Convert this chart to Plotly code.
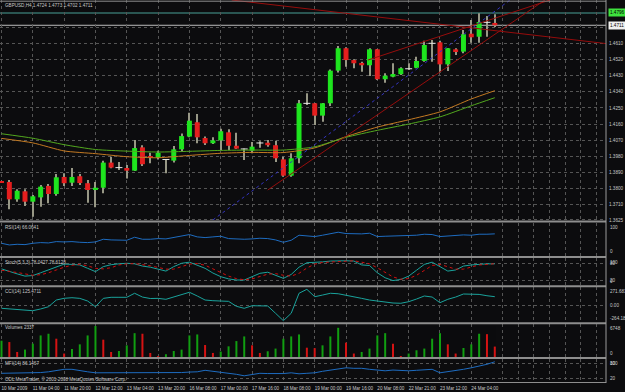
import plotly.graph_objects as go

# ---------------- data ----------------
time_ticks = list(range(0, 61, 4))
time_labels = ["10 Mar 2009", "11 Mar 04:00", "11 Mar 20:00", "12 Mar 12:00", "13 Mar 04:00",
               "13 Mar 20:00", "16 Mar 08:00", "17 Mar 00:00", "17 Mar 16:00", "18 Mar 08:00",
               "19 Mar 00:00", "19 Mar 16:00", "20 Mar 08:00", "22 Mar 21:00", "23 Mar 12:00",
               "24 Mar 04:00"]
future_grid = [64, 66, 68, 70, 72, 74, 76]

open_ = [1.3842, 1.3837, 1.3740, 1.3785, 1.3727, 1.3751, 1.3815, 1.3770, 1.3865, 1.3833,
         1.3869, 1.3830, 1.3796, 1.3805, 1.3945, 1.3918, 1.3915, 1.3900, 1.4030, 1.3980,
         1.3972, 1.3963, 1.3956, 1.4019, 1.4090, 1.4170, 1.4082, 1.4053, 1.4069, 1.4114,
         1.4039, 1.4022, 1.4011, 1.4055, 1.4056, 1.4042, 1.3963, 1.3872, 1.3969, 1.4276,
         1.4276, 1.4207, 1.4276, 1.4458, 1.4583, 1.4517, 1.4501, 1.4488, 1.4577, 1.4410,
         1.4424, 1.4438, 1.4469, 1.4474, 1.4512, 1.4611, 1.4616, 1.4493, 1.4577, 1.4564,
         1.4664, 1.4647, 1.4728, 1.4724]
high = [1.3845, 1.3848, 1.3796, 1.3796, 1.3764, 1.3820, 1.3826, 1.3881, 1.3885, 1.3915,
        1.3881, 1.3848, 1.3837, 1.3956, 1.3978, 1.3948, 1.3932, 1.4071, 1.4042, 1.4000,
        1.4011, 1.3965, 1.4038, 1.4108, 1.4223, 1.4216, 1.4090, 1.4086, 1.4134, 1.4131,
        1.4112, 1.4024, 1.4060, 1.4064, 1.4071, 1.4067, 1.3978, 1.3997, 1.4294, 1.4332,
        1.4278, 1.4278, 1.4465, 1.4595, 1.4588, 1.4521, 1.4508, 1.4583, 1.4579, 1.4443,
        1.4499, 1.4477, 1.4499, 1.4536, 1.4625, 1.4629, 1.4625, 1.4584, 1.4583, 1.4685,
        1.4740, 1.4778, 1.4763, 1.4773]
low = [1.3831, 1.3685, 1.3727, 1.3703, 1.3643, 1.3699, 1.3718, 1.3760, 1.3815, 1.3815,
       1.3820, 1.3721, 1.3696, 1.3774, 1.3913, 1.3904, 1.3857, 1.3898, 1.3926, 1.3941,
       1.3963, 1.3885, 1.3945, 1.4006, 1.4086, 1.4053, 1.4043, 1.4049, 1.4015, 1.4015,
       1.4021, 1.3960, 1.3997, 1.4028, 1.4034, 1.3948, 1.3866, 1.3866, 1.3941, 1.4266,
       1.4155, 1.4173, 1.4261, 1.4447, 1.4480, 1.4471, 1.4452, 1.4428, 1.4406, 1.4391,
       1.4421, 1.4434, 1.4462, 1.4471, 1.4508, 1.4508, 1.4447, 1.4456, 1.4545, 1.4555,
       1.4614, 1.4614, 1.4647, 1.4702]
close = [1.3834, 1.3740, 1.3788, 1.3727, 1.3757, 1.3811, 1.3770, 1.3863, 1.3830, 1.3865,
         1.3831, 1.3792, 1.3805, 1.3945, 1.3917, 1.3916, 1.3900, 1.4026, 1.3936, 1.3976,
         1.3999, 1.3962, 1.4019, 1.4093, 1.4179, 1.4086, 1.4053, 1.4069, 1.4120, 1.4039,
         1.4023, 1.4020, 1.4034, 1.4054, 1.4042, 1.3969, 1.3872, 1.3969, 1.4276, 1.4275,
         1.4207, 1.4276, 1.4458, 1.4583, 1.4517, 1.4499, 1.4488, 1.4577, 1.4410, 1.4430,
         1.4439, 1.4471, 1.4468, 1.4512, 1.4601, 1.4610, 1.4493, 1.4583, 1.4566, 1.4661,
         1.4644, 1.4729, 1.4727, 1.4711]

ma_idx = [0, 4, 8, 12, 16, 20, 24, 28, 32, 36, 40, 44, 48, 52, 56, 60, 63]
ma_green = [1.4106, 1.4081, 1.4045, 1.4018, 1.4009, 1.4004, 1.4008, 1.4013, 1.4015,
            1.4015, 1.4033, 1.4086, 1.4125, 1.4160, 1.4200, 1.4262, 1.4307]
ma_orange = [1.4080, 1.4055, 1.4010, 1.3995, 1.3978, 1.3972, 1.3985, 1.3997, 1.4002,
             1.4001, 1.4027, 1.4090, 1.4143, 1.4184, 1.4228, 1.4300, 1.4346]

# trend line anchor points (bar index, price)
trend_down_x, trend_down_y = [29.4, 77.2], [1.4852, 1.4609]
trend_up1_x, trend_up1_y = [34.0, 69.4], [1.3792, 1.4852]
trend_up2_x, trend_up2_y = [46.8, 70.05], [1.4517, 1.4852]
trend_blue_x, trend_blue_y = [27.0, 64.95], [1.3625, 1.4852]

level_line = 1.4780
level_label = "1.4796"
bid_price = 1.4711
bid_label = "1.4711"

price_ticks = [1.3625, 1.3710, 1.3800, 1.3890, 1.3980, 1.4070, 1.4160, 1.4250,
               1.4340, 1.4430, 1.4520, 1.4610, 1.4700]
price_tick_text = ["1.3625", "1.3710", "1.3800", "1.3890", "1.3980", "1.4070", "1.4160",
                   "1.4250", "1.4340", "1.4430", "1.4520", "1.4610", ""]

rsi = [38, 33, 35, 34, 38, 40, 39, 43, 42, 43, 41, 40, 42, 50, 48, 48, 47, 56, 50, 50,
       52, 51, 55, 60, 64, 57, 55, 57, 59, 52, 50, 50, 51, 53, 52, 48, 41, 47, 62, 61,
       58, 62, 66, 71, 67, 66, 66, 68, 58, 59, 60, 60, 60, 62, 65, 64, 58, 60, 60, 63,
       62, 65, 65, 66.06]
stoch_main = [60, 50, 42, 34, 36, 46, 56, 66, 77, 76, 74, 62, 50, 68, 75, 78, 80, 78, 70, 66,
              58, 52, 68, 80, 84, 74, 62, 45, 32, 24, 20, 20, 32, 44, 48, 36, 26, 40, 66, 82,
              83, 85, 88, 89, 89, 88, 74, 72, 46, 28, 18, 22, 34, 55, 76, 84, 68, 52, 56, 70,
              74, 77, 78, 78.04]
stoch_signal = [55, 52, 47, 42, 37, 39, 46, 56, 66, 73, 76, 71, 62, 60, 64, 74, 78, 79, 76, 71,
                65, 59, 59, 67, 77, 79, 73, 60, 46, 34, 25, 21, 24, 32, 41, 43, 37, 34, 44, 63,
                77, 83, 85, 87, 89, 89, 84, 78, 64, 49, 31, 23, 25, 37, 55, 72, 76, 68, 59, 59,
                67, 74, 76, 78.61]
cci = [-50, -60, -70, -75, -86, -60, -26, 75, 101, 110, 100, 60, -26, 100, 116, 116, 116, 177,
       120, 98, 100, 86, 120, 151, 192, 136, 75, 65, 60, 55, -20, -50, -11, -11, -15, -125,
       -237, -125, 177, 237, 125, 150, 177, 170, 150, 120, 100, 75, 60, 41, 30, 26, 50, 90,
       136, 120, 35, 86, 120, 166, 166, 160, 140, 125.47]
volume = [3600, 3307, 1187, 1696, 2968, 4728, 5088, 4028, 848, 1823,
          2820, 4728, 6748, 3816, 1187, 1399, 2608, 5215, 5088, 975,
          276, 700, 1399, 1696, 4728, 4940, 2671, 975, 1272, 2396,
          3519, 4516, 2608, 975, 1336, 1908, 4028, 4516, 4940, 2100,
          2000, 2608, 4516, 6360, 3180, 848, 1187, 1908, 4728, 5215,
          2968, 276, 848, 1548, 1908, 4028, 5215, 2820, 848, 2035,
          2820, 5088, 5000, 2337]
mfi = [40, 40, 40, 40, 40, 43, 46, 52, 56, 56, 50, 46, 42, 42, 41, 40, 40, 40, 40, 40,
       40, 40, 41, 43, 45, 46, 52, 48, 45, 43, 36, 30, 36, 40, 39, 38, 39, 42, 38, 40,
       42, 48, 53, 58, 62, 60, 60, 56, 53, 50, 53, 51, 50, 52, 53, 56, 42, 46, 52, 56,
       62, 69, 76, 86.15]

title_text = "GBPUSD,H4 1.4724 1.4773 1.4702 1.4711"
rsi_text = "RSI(14) 66.0641"
stoch_text = "Stoch(5,3,3) 78.0427 78.6128"
cci_text = "CCI(14) 125.4711"
vol_text = "Volumes 2337"
mfi_text = "MFI(14) 86.1467"
copy_text = "ODL MetaTrader, \u00a9 2001-2008 MetaQuotes Software Corp."

# ---------------- styling / layout ----------------
BG = "#0c0c0e"
TXT = "#c8c8c8"
GRID = "#555555"
UP = "#1ee61e"
DN = "#e61e1e"
FONT = "Liberation Sans"
FS = 4.6

W, H = 625, 392
MR, MB = 19, 10
PH = H - MB
PX = 7.83  # pixels per bar


def pyr(p):
    return 1 - p / PH


idx = list(range(len(open_)))
doji = [abs(c - o) < 0.00025 for o, c in zip(open_, close)]
body_x = [i for i in idx if not doji[i]]
body_base = [min(open_[i], close[i]) for i in body_x]
body_h = [abs(close[i] - open_[i]) for i in body_x]
body_col = [UP if close[i] > open_[i] else DN for i in body_x]
doji_x = [i for i in idx if doji[i]]
doji_y = [(open_[i] + close[i]) / 2 for i in doji_x]

vol_col = ["#12a012" if (i == 0 or volume[i] > volume[i - 1]) else "#d81414" for i in idx]

fig = go.Figure()
# wicks
fig.add_trace(go.Bar(x=idx, y=[h - l for h, l in zip(high, low)], base=low,
                     width=1.0 / PX, marker=dict(color="#9a9a88", line=dict(width=0)),
                     opacity=0.99, yaxis="y", hoverinfo="skip"))
# bodies
fig.add_trace(go.Bar(x=body_x, y=body_h, base=body_base, width=5.0 / PX,
                     marker=dict(color=body_col, line=dict(width=0)), opacity=0.99,
                     yaxis="y", hoverinfo="skip"))
fig.add_trace(go.Scatter(x=doji_x, y=doji_y, mode="markers", yaxis="y",
                         marker=dict(symbol="line-ew", size=5,
                                     line=dict(width=1, color="#e8e8e8")), hoverinfo="skip"))
fig.add_trace(go.Scatter(x=ma_idx, y=ma_orange, mode="lines", yaxis="y",
                         line=dict(color="#c47a22", width=1, shape="spline", smoothing=0.6)))
fig.add_trace(go.Scatter(x=ma_idx, y=ma_green, mode="lines", yaxis="y",
                         line=dict(color="#52a81e", width=1, shape="spline", smoothing=0.6)))
for tx, ty in [(trend_down_x, trend_down_y), (trend_up1_x, trend_up1_y),
               (trend_up2_x, trend_up2_y)]:
    fig.add_trace(go.Scatter(x=tx, y=ty, mode="lines", yaxis="y",
                             line=dict(color="#960c0c", width=1)))
fig.add_trace(go.Scatter(x=trend_blue_x, y=trend_blue_y, mode="lines", yaxis="y",
                         line=dict(color="#3434c0", width=1, dash="dot")))

# indicators
fig.add_trace(go.Scatter(x=idx, y=rsi, mode="lines", yaxis="y2",
                         line=dict(color="#1e6cc0", width=1)))
fig.add_trace(go.Scatter(x=idx, y=stoch_main, mode="lines", yaxis="y3",
                         line=dict(color="#1aa39c", width=1)))
fig.add_trace(go.Scatter(x=idx, y=stoch_signal, mode="lines", yaxis="y3",
                         line=dict(color="#d01010", width=1, dash="dot")))
fig.add_trace(go.Scatter(x=idx, y=cci, mode="lines", yaxis="y4",
                         line=dict(color="#1aa39c", width=1)))
fig.add_trace(go.Bar(x=idx, y=volume, width=2.0 / PX, yaxis="y5",
                     marker=dict(color=vol_col, line=dict(width=0)), opacity=0.99))
fig.add_trace(go.Scatter(x=idx, y=mfi, mode="lines", yaxis="y6",
                         line=dict(color="#1e6cc0", width=1)))

tickvals = time_ticks + future_grid
ticktext = time_labels + [""] * len(future_grid)

vol_max_axis = max(volume) * 33.5 / 31.5

sub_common = dict(anchor="x", showticklabels=False, zeroline=False, showline=False,
                  ticks="", fixedrange=True)
fig.update_layout(
    width=W, height=H,
    margin=dict(l=0, r=MR, t=0, b=MB),
    paper_bgcolor=BG, plot_bgcolor=BG,
    showlegend=False, barmode="overlay", hovermode=False,
    font=dict(family=FONT, size=FS, color=TXT),
    xaxis=dict(anchor="y6", domain=[0, 1], range=[-(1.5 / PX), (606 - 1.5) / PX],
               tickmode="array", tickvals=tickvals, ticktext=ticktext,
               ticklabelposition="outside right", ticks="", tickangle=0,
               ticklabelstandoff=2,
               tickfont=dict(size=FS, color=TXT, family=FONT),
               showgrid=True, gridcolor=GRID, griddash="dot", gridwidth=1,
               zeroline=False, showline=False),
    yaxis=dict(anchor="x", domain=[pyr(221), 1], range=[1.4852 - 221 * 0.0005578, 1.4852],
               side="right", tickmode="array", tickvals=price_ticks, ticktext=price_tick_text,
               ticks="", ticklabelstandoff=2, tickfont=dict(size=FS, color=TXT, family=FONT),
               showgrid=True, gridcolor=GRID, griddash="dot", zeroline=False, showline=False),
    yaxis2=dict(domain=[pyr(256), pyr(222.5)], range=[0, 100], showgrid=False, **sub_common),
    yaxis3=dict(domain=[pyr(285.6), pyr(257.7)], range=[0, 100], tickmode="array",
                tickvals=[20, 80], showgrid=True, gridcolor=GRID, griddash="dot", **sub_common),
    yaxis4=dict(domain=[pyr(322.5), pyr(287)], range=[-264.183, 271.681], tickmode="array",
                tickvals=[0], showgrid=True, gridcolor=GRID, griddash="dot", **sub_common),
    yaxis5=dict(domain=[pyr(357.5), pyr(324)], range=[0, vol_max_axis], showgrid=False,
                **sub_common),
    yaxis6=dict(domain=[0, pyr(358.5)], range=[5.2, 99.2], tickmode="array",
                tickvals=[20, 80], showgrid=True, gridcolor=GRID, griddash="dot", **sub_common),
)

shapes = []
# horizontal price lines
shapes.append(dict(type="line", xref="paper", yref="y", x0=0, x1=1, y0=level_line,
                   y1=level_line, line=dict(color="#2a5652", width=2), layer="between"))
shapes.append(dict(type="line", xref="paper", yref="y", x0=0, x1=1, y0=bid_price,
                   y1=bid_price, line=dict(color="#bcbcbc", width=1), layer="between"))
# window frame / separators
for p, w in [(1.2, 1), (221.5, 2), (257, 2), (286.3, 2), (323.3, 2), (358, 2), (382.5, 1)]:
    shapes.append(dict(type="line", xref="paper", yref="paper", x0=0, x1=1,
                       y0=pyr(p), y1=pyr(p), line=dict(color="#8e8e8e", width=w)))
shapes.append(dict(type="line", xref="paper", yref="paper", x0=1, x1=1,
                   y0=pyr(383), y1=1, line=dict(color="#9a9a9a", width=1)))
fig.update_layout(shapes=shapes)

ann = []
for text, p in [(title_text, 5.5), (rsi_text, 227), (stoch_text, 262), (cci_text, 291),
                (vol_text, 327.3), (mfi_text, 363.5), (copy_text, 379.3)]:
    ann.append(dict(text=text, xref="paper", yref="paper", x=3 / 606, y=pyr(p),
                    xanchor="left", yanchor="middle", showarrow=False,
                    font=dict(size=FS, color=TXT, family=FONT)))
# price tags
ann.append(dict(text=level_label, xref="paper", yref="y", x=1, y=level_line, xanchor="left",
                yanchor="middle", xshift=2, showarrow=False, bgcolor="#3ee23e",
                borderpad=1, font=dict(size=FS, color="#000000", family=FONT)))
ann.append(dict(text=bid_label, xref="paper", yref="y", x=1, y=bid_price, xanchor="left",
                yanchor="middle", xshift=2, showarrow=False, bgcolor="#f0f0f0",
                borderpad=1, font=dict(size=FS, color="#000000", family=FONT)))
# sub-window scale labels
sub_labels = [("y2", 100, "top", "100"), ("y2", 0, "bottom", "0"),
              ("y3", 100, "top", "100"), ("y3", 80, "middle", "80"),
              ("y3", 20, "middle", "20"), ("y3", 0, "bottom", "0"),
              ("y4", 271.681, "top", "271.681"), ("y4", 0, "middle", "0.00"),
              ("y4", -264.183, "bottom", "-264.183"),
              ("y5", vol_max_axis, "top", str(max(volume))), ("y5", 0, "bottom", "0"),
              ("y6", 99.2, "top", "100"), ("y6", 80, "middle", "80"), ("y6", 20, "middle", "20")]
for yr, val, anc, txt in sub_labels:
    ann.append(dict(text=txt, xref="paper", yref=yr, x=1, y=val, xanchor="left",
                    yanchor=anc, xshift=2, showarrow=False,
                    font=dict(size=FS, color=TXT, family=FONT)))
fig.update_layout(annotations=ann)

fig.write_html("out.html")
